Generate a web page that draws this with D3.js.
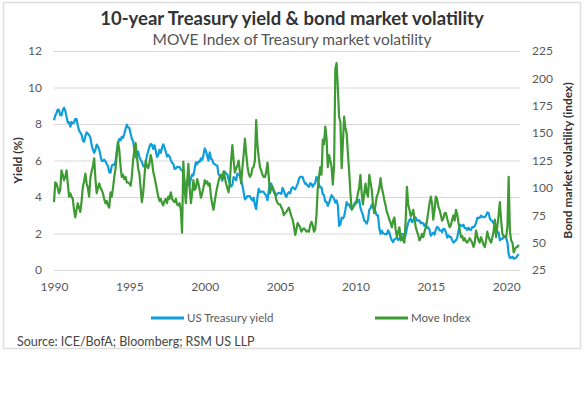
<!DOCTYPE html>
<html>
<head>
<meta charset="utf-8">
<script src="https://cdn.jsdelivr.net/npm/d3@7"></script>
<style>
  body { margin: 0; background: #fff; }
  svg { font-family: Lato, "Open Sans", sans-serif; }
</style>
</head>
<body>
<svg class="svg" width="585" height="395"></svg>
<script>
// monthly values, Jan 1990 .. Nov 2020
var startYear = 1990;

// 10-year Treasury yield (%)
var treasuryYield = [
  8.21, 8.47, 8.59, 8.79, 8.76, 8.48, 8.47, 8.75, 8.89, 8.72, 8.39, 8.08, // 1990
  8.09, 7.85, 8.11, 8.04, 8.07, 8.28, 8.27, 7.90, 7.65, 7.53, 7.42, 7.09, // 1991
  7.03, 7.34, 7.54, 7.48, 7.39, 7.26, 6.84, 6.59, 6.42, 6.59, 6.87, 6.77, // 1992
  6.60, 6.26, 5.98, 5.97, 6.04, 5.96, 5.81, 5.68, 5.36, 5.33, 5.72, 5.77, // 1993
  5.75, 5.97, 6.48, 6.97, 7.18, 7.10, 7.30, 7.24, 7.46, 7.74, 7.96, 7.81, // 1994
  7.78, 7.47, 7.20, 7.06, 6.63, 6.17, 6.28, 6.49, 6.20, 6.04, 5.93, 5.71, // 1995
  5.65, 5.81, 6.27, 6.51, 6.74, 6.91, 6.87, 6.64, 6.83, 6.53, 6.20, 6.30, // 1996
  6.58, 6.42, 6.69, 6.89, 6.71, 6.49, 6.22, 6.30, 6.21, 6.03, 5.88, 5.81, // 1997
  5.54, 5.57, 5.65, 5.64, 5.65, 5.50, 5.46, 5.34, 4.81, 4.53, 4.83, 4.65, // 1998
  4.72, 5.00, 5.23, 5.18, 5.54, 5.90, 5.79, 5.94, 5.92, 6.11, 6.03, 6.28, // 1999
  6.66, 6.52, 6.26, 5.99, 6.44, 6.10, 6.05, 5.83, 5.80, 5.74, 5.72, 5.24, // 2000
  5.16, 5.10, 4.89, 5.14, 5.39, 5.28, 5.24, 4.97, 4.73, 4.57, 4.65, 5.09, // 2001
  5.04, 4.91, 5.28, 5.21, 5.16, 4.93, 4.65, 4.26, 3.87, 3.94, 4.05, 4.03, // 2002
  4.05, 3.90, 3.81, 3.96, 3.57, 3.33, 3.98, 4.45, 4.27, 4.29, 4.30, 4.27, // 2003
  4.15, 4.08, 3.83, 4.35, 4.72, 4.73, 4.50, 4.28, 4.13, 4.10, 4.19, 4.23, // 2004
  4.22, 4.17, 4.50, 4.34, 4.14, 4.00, 4.18, 4.26, 4.20, 4.46, 4.54, 4.47, // 2005
  4.42, 4.57, 4.72, 4.99, 5.11, 5.11, 5.09, 4.88, 4.72, 4.73, 4.60, 4.56, // 2006
  4.76, 4.72, 4.56, 4.69, 4.75, 5.10, 5.00, 4.67, 4.52, 4.53, 4.15, 4.10, // 2007
  3.74, 3.74, 3.51, 3.68, 3.88, 4.10, 4.01, 3.89, 3.69, 3.81, 3.53, 2.42, // 2008
  2.52, 2.87, 2.82, 2.93, 3.29, 3.72, 3.56, 3.59, 3.40, 3.39, 3.40, 3.59, // 2009
  3.73, 3.69, 3.73, 3.85, 3.42, 3.20, 3.01, 2.70, 2.65, 2.54, 2.76, 3.29, // 2010
  3.39, 3.58, 3.41, 3.46, 3.17, 3.00, 3.00, 2.30, 1.98, 2.15, 2.01, 1.98, // 2011
  1.97, 1.97, 2.17, 2.05, 1.80, 1.62, 1.53, 1.68, 1.72, 1.75, 1.65, 1.72, // 2012
  1.91, 1.98, 1.96, 1.76, 1.93, 2.30, 2.58, 2.74, 2.81, 2.62, 2.72, 2.90, // 2013
  2.86, 2.71, 2.72, 2.71, 2.56, 2.60, 2.54, 2.42, 2.53, 2.30, 2.33, 2.21, // 2014
  1.88, 1.98, 2.04, 1.94, 2.20, 2.36, 2.32, 2.17, 2.17, 2.07, 2.26, 2.24, // 2015
  2.09, 1.78, 1.89, 1.81, 1.81, 1.64, 1.50, 1.56, 1.63, 1.76, 2.14, 2.49, // 2016
  2.43, 2.42, 2.48, 2.30, 2.30, 2.19, 2.32, 2.21, 2.20, 2.36, 2.35, 2.40, // 2017
  2.58, 2.86, 2.84, 2.87, 2.98, 2.91, 2.89, 2.89, 3.00, 3.15, 3.12, 2.83, // 2018
  2.71, 2.68, 2.57, 2.53, 2.40, 2.07, 2.06, 1.63, 1.70, 1.71, 1.81, 1.86, // 2019
  1.76, 1.50, 0.87, 0.66, 0.67, 0.73, 0.62, 0.65, 0.68, 0.79, 0.87        // 2020
];

// MOVE index
var moveIndex = [
  87, 105, 104, 100, 95, 98, 116, 112, 107, 110, 116, 104,   // 1990
  92, 95, 92, 90, 80, 73, 80, 86, 82, 78, 88, 101,           // 1991
  106, 113, 104, 100, 92, 109, 115, 120, 127, 108, 95, 100,  // 1992
  104, 100, 98, 95, 90, 86, 88, 84, 82, 96, 92, 100,         // 1993
  110, 118, 130, 142, 135, 120, 110, 112, 108, 110, 105, 105, // 1994
  104, 102, 110, 125, 134, 141, 130, 118, 113, 100, 87, 95,  // 1995
  110, 125, 120, 118, 122, 130, 125, 115, 110, 104, 98, 92,  // 1996
  88, 90, 86, 84, 88, 90, 86, 92, 90, 96, 90, 88,            // 1997
  87, 90, 85, 84, 86, 80, 59, 124, 100, 86, 105, 122,        // 1998
  100, 86, 95, 107, 98, 100, 108, 104, 98, 91, 95, 100,      // 1999
  107, 104, 106, 102, 104, 92, 85, 80, 88, 95, 101, 106,     // 2000
  110, 112, 108, 115, 110, 104, 100, 96, 105, 125, 139, 125, // 2001
  114, 118, 120, 125, 115, 104, 118, 130, 145, 132, 120, 113, // 2002
  110, 112, 118, 119, 125, 162, 140, 128, 119, 116, 112, 110, // 2003
  110, 115, 123, 110, 95, 100, 101, 98, 95, 89, 86, 85,      // 2004
  85, 82, 80, 75, 77, 78, 80, 82, 78, 74, 71, 65,            // 2005
  57, 62, 68, 66, 64, 60, 62, 63, 62, 60, 61, 60,            // 2006
  66, 69, 66, 60, 62, 75, 98, 110, 119, 112, 144, 140,       // 2007
  156, 145, 119, 130, 125, 119, 103, 120, 209, 214, 190, 165, // 2008
  160, 118, 140, 165, 155, 150, 132, 115, 95, 80, 82, 85,    // 2009
  85, 89, 95, 100, 112, 95, 85, 95, 104, 95, 92, 112,        // 2010
  105, 98, 85, 77, 84, 92, 95, 100, 109, 100, 95, 89,        // 2011
  84, 78, 75, 71, 68, 64, 70, 73, 62, 55, 60, 64,            // 2012
  52, 55, 52, 50, 70, 101, 85, 80, 74, 76, 80, 72,           // 2013
  64, 60, 57, 52, 54, 58, 55, 60, 64, 70, 78, 86,            // 2014
  92, 85, 71, 80, 92, 90, 83, 80, 75, 70, 72, 77,            // 2015
  77, 72, 68, 64, 66, 71, 75, 70, 80, 76, 68, 62,            // 2016
  55, 56, 52, 54, 51, 50, 52, 54, 52, 50, 46, 50,            // 2017
  61, 56, 52, 50, 55, 52, 48, 46, 52, 60, 55, 52,            // 2018
  50, 55, 60, 71, 55, 65, 75, 87, 70, 58, 56, 55,            // 2019
  55, 65, 110, 60, 52, 50, 41, 44, 46, 46, 48                // 2020
];

var yieldTicks = [0, 2, 4, 6, 8, 10, 12];
var moveTicks = [25, 50, 75, 100, 125, 150, 175, 200, 225];
var yearTicks = [1990, 1995, 2000, 2005, 2010, 2015, 2020];

var yieldSeries = treasuryYield.map((v, i) => ({ date: new Date(startYear, i, 1), value: v }));
var moveSeries = moveIndex.map((v, i) => ({ date: new Date(startYear, i, 1), value: v }));

var blue = '#0f9ddb';
var green = '#3e9a32';

var svg = d3.select('.svg');

// chart frame
svg.append('rect')
  .attr('x', 3.5).attr('y', 2.5)
  .attr('width', 577).attr('height', 346)
  .attr('fill', 'none')
  .attr('stroke', '#dedede')
  .attr('stroke-width', 1.5);

// plot box (note: "top" is reserved on window, so use other names)
var plotLeft = 54, plotRight = 520, plotTop = 51, plotBottom = 270;

var x = d3.scaleTime()
  .domain([new Date(1990, 0, 1), new Date(2020, 11, 1)])
  .range([plotLeft, plotRight]);
var yLeft = d3.scaleLinear().domain([0, 12]).range([plotBottom, plotTop]);
var yRight = d3.scaleLinear().domain([25, 225]).range([plotBottom, plotTop]);

// left axis with gridlines
var gLeft = svg.append('g')
  .attr('transform', 'translate(' + plotLeft + ',0)')
  .call(d3.axisLeft(yLeft).tickValues(yieldTicks).tickSize(-(plotRight - plotLeft)).tickPadding(12));
gLeft.select('.domain').remove();
gLeft.selectAll('line').attr('stroke', '#d9d9d9');

// right axis
var gRight = svg.append('g')
  .attr('transform', 'translate(' + plotRight + ',0)')
  .call(d3.axisRight(yRight).tickValues(moveTicks).tickSize(0).tickPadding(12));
gRight.select('.domain').remove();

// x axis
var gX = svg.append('g')
  .attr('transform', 'translate(0,' + plotBottom + ')')
  .call(d3.axisBottom(x)
    .tickValues(yearTicks.map(y => new Date(y, 0, 1)))
    .tickFormat(d3.timeFormat('%Y'))
    .tickSize(0).tickPadding(12));
gX.select('.domain').remove();

svg.selectAll('.tick text')
  .attr('fill', '#595959')
  .style('font-size', '12px')
  .style('font-family', 'Lato, sans-serif');

// lines
var yieldLine = d3.line().x(d => x(d.date)).y(d => yLeft(d.value));
var moveLine = d3.line().x(d => x(d.date)).y(d => yRight(d.value));

svg.append('path')
  .datum(yieldSeries)
  .attr('d', yieldLine)
  .attr('fill', 'none')
  .attr('stroke', blue)
  .attr('stroke-width', 2.2)
  .attr('stroke-linejoin', 'round');

svg.append('path')
  .datum(moveSeries)
  .attr('d', moveLine)
  .attr('fill', 'none')
  .attr('stroke', green)
  .attr('stroke-width', 2.2)
  .attr('stroke-linejoin', 'round');

// titles
svg.append('text')
  .attr('x', 292).attr('y', 25)
  .attr('text-anchor', 'middle')
  .attr('fill', '#333')
  .style('font-size', '18.5px')
  .style('font-weight', 'bold')
  .text('10-year Treasury yield & bond market volatility');

svg.append('text')
  .attr('x', 292).attr('y', 45)
  .attr('text-anchor', 'middle')
  .attr('fill', '#555')
  .style('font-size', '15.5px')
  .text('MOVE Index of Treasury market volatility');

svg.append('text')
  .attr('transform', 'translate(22,' + (plotTop + plotBottom) / 2 + ') rotate(-90)')
  .attr('text-anchor', 'middle')
  .attr('fill', '#333')
  .style('font-size', '12px')
  .style('font-weight', 'bold')
  .text('Yield (%)');

svg.append('text')
  .attr('transform', 'translate(572,' + (plotTop + plotBottom) / 2 + ') rotate(-90)')
  .attr('text-anchor', 'middle')
  .attr('fill', '#333')
  .style('font-size', '12px')
  .style('font-weight', 'bold')
  .text('Bond market volatility (index)');

// legend
var legend = [
  { name: 'US Treasury yield', color: blue, x: 151 },
  { name: 'Move Index', color: green, x: 375 }
];
var lg = svg.selectAll('.legend')
  .data(legend)
  .enter().append('g')
  .attr('class', 'legend')
  .attr('transform', d => 'translate(' + d.x + ',318)');
lg.append('line')
  .attr('x1', 0).attr('x2', 33)
  .attr('stroke', d => d.color)
  .attr('stroke-width', 3);
lg.append('text')
  .attr('x', 36).attr('y', 4)
  .attr('fill', '#595959')
  .style('font-size', '11.5px')
  .text(d => d.name);

svg.append('text')
  .attr('x', 17).attr('y', 346)
  .attr('fill', '#444')
  .style('font-size', '12.5px')
  .text('Source: ICE/BofA; Bloomberg; RSM US LLP');
</script>
</body>
</html>
